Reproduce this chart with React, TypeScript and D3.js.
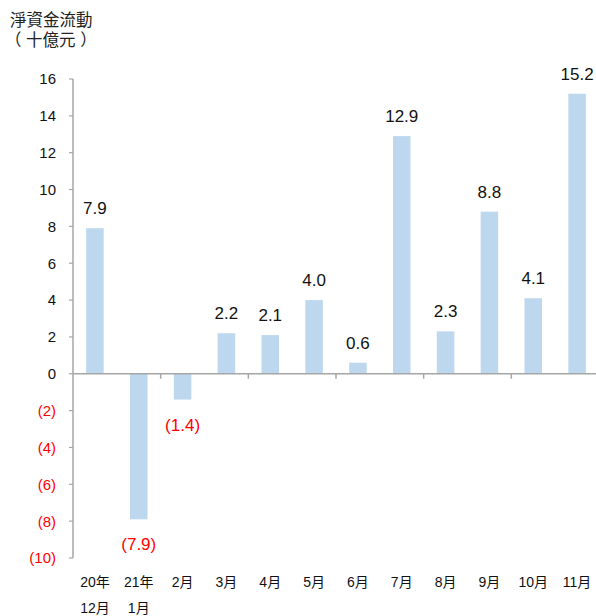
import React from 'react';
import { scaleLinear, scaleBand, range } from 'd3';

// net capital flow, billions
const categories = ['20年\n12月', '21年\n1月', '2月', '3月', '4月', '5月', '6月', '7月', '8月', '9月', '10月', '11月'];
const values = [7.9, -7.9, -1.4, 2.2, 2.1, 4.0, 0.6, 12.9, 2.3, 8.8, 4.1, 15.2];
const yTicks = [-10, -8, -6, -4, -2, 0, 2, 4, 6, 8, 10, 12, 14, 16];
const titleLines = ['淨資金流動', '（ 十億元 ）'];

const W = 596;
const H = 616;
const FONT = "'Liberation Sans', Arial, 'Noto Sans CJK TC', sans-serif";
const RED = '#ff0000';
const AXIS = '#a6a6a6';

const fmt = (v: number, digits: number) =>
  v < 0 ? `(${Math.abs(v).toFixed(digits)})` : v.toFixed(digits);

export default function App() {
  const x = scaleBand<number>()
    .domain(range(categories.length))
    .range([73, 599]);
  const y = scaleLinear().domain([-10, 16]).range([558, 79]);
  const barW = 17.5;
  const y0 = y(0);

  return (
    <svg width={W} height={H} style={{ position: 'absolute', left: 0, top: 0, background: '#fff' }} fontFamily={FONT}>
      {/* title */}
      {titleLines.map((t, i) => (
        <text key={t} x={i === 0 ? 10 : 5} y={26 + i * 20} fontSize={16.5} fill="#222">{t}</text>
      ))}

      {/* bars */}
      {values.map((v, i) => (
        <rect key={i}
          x={x(i)! + x.bandwidth() / 2 - barW / 2}
          y={Math.min(y(v), y0)}
          width={barW}
          height={Math.abs(y(v) - y0)}
          fill="#bdd7ee" />
      ))}

      {/* y axis */}
      <line x1={73} x2={73} y1={y(16)} y2={y(-10)} stroke={AXIS} strokeWidth={1.5} />
      {yTicks.map(t => (
        <g key={t}>
          <line x1={69} x2={73} y1={y(t)} y2={y(t)} stroke={AXIS} strokeWidth={1.2} />
          <text x={56} y={y(t)} dy="0.36em" textAnchor="end" fontSize={15}
            fill={t < 0 ? RED : '#111'}>{fmt(t, 0)}</text>
        </g>
      ))}

      {/* zero line + category ticks every 2 */}
      <line x1={73} x2={W} y1={y0} y2={y0} stroke={AXIS} strokeWidth={1.5} />
      {range(2, categories.length, 2).map(i => (
        <line key={i} x1={x(i)!} x2={x(i)!} y1={y0} y2={y0 + 5} stroke={AXIS} strokeWidth={1.5} />
      ))}

      {/* value labels */}
      {values.map((v, i) => (
        <text key={i}
          x={x(i)! + x.bandwidth() / 2}
          y={v >= 0 ? y(v) - 14 : y(v) + 31}
          textAnchor="middle" fontSize={17}
          fill={v < 0 ? RED : '#111'}>{fmt(v, 1)}</text>
      ))}

      {/* category labels */}
      {categories.map((c, i) => (
        <text key={i} x={x(i)! + x.bandwidth() / 2} y={587} textAnchor="middle" fontSize={14} fill="#111">
          {c.split('\n').map((line, j) => (
            <tspan key={j} x={x(i)! + x.bandwidth() / 2} dy={j === 0 ? 0 : 26}>{line}</tspan>
          ))}
        </text>
      ))}
    </svg>
  );
}
